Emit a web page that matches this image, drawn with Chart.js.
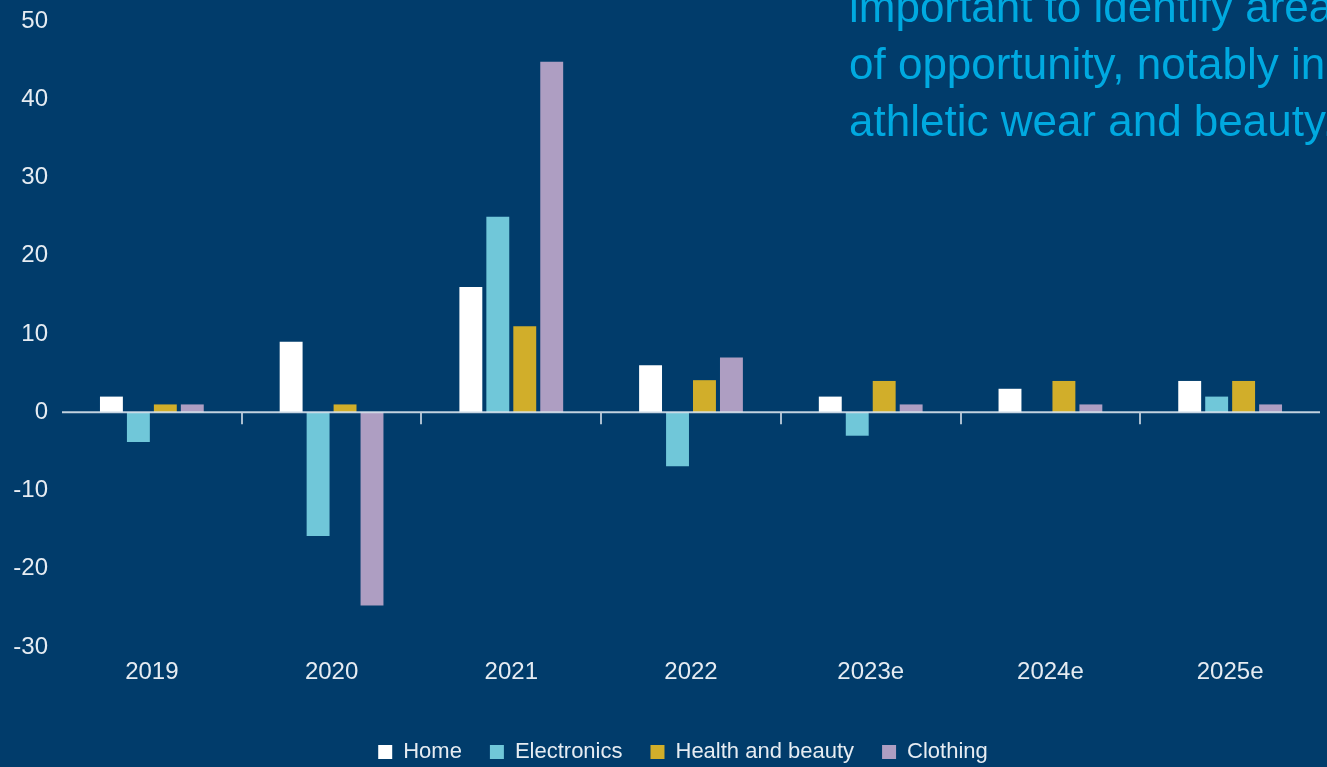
<!DOCTYPE html>
<html>
<head>
<meta charset="utf-8">
<script src="https://cdn.jsdelivr.net/npm/chart.js@4.4.1/dist/chart.umd.min.js"></script>
<style>
  html, body { margin:0; padding:0; background:#013c6b; overflow:hidden; }
  #wrap { position:relative; width:1327px; height:767px; }
  #note { position:absolute; left:849px; top:-22px; width:600px; font-family:"Liberation Sans", Arial, sans-serif;
          font-size:44px; line-height:57px; color:#00a9e0; white-space:nowrap; }
</style>
</head>
<body>
<div id="wrap">
  <canvas id="c" width="1327" height="767"></canvas>
  <div id="note">important to identify areas<br>of opportunity, notably in<br>athletic wear and beauty.</div>
</div>
<script>
const categories = ["2019", "2020", "2021", "2022", "2023e", "2024e", "2025e"];
const homeValues = [2, 9, 16, 6, 2, 3, 4];
const electronicsValues = [-3.8, -15.8, 25, -6.9, -3, 0, 2];
const healthBeautyValues = [1, 1, 11, 4.1, 4, 4, 4];
const clothingValues = [1, -24.7, 44.8, 7, 1, 1, 1];
const yTicks = [-30, -20, -10, 0, 10, 20, 30, 40, 50];

const FONT = "'Liberation Sans', Arial, sans-serif";

const zeroLine = {
  id: 'zeroLine',
  afterLayout(chart) {
    if (chart.legend) { chart.legend.left += 23; chart.legend.right += 23; }
  },
  afterDatasetsDraw(chart) {
    const {ctx, chartArea, scales} = chart;
    const y0 = scales.y.getPixelForValue(0);
    ctx.save();
    ctx.strokeStyle = 'rgba(215,226,236,0.9)';
    ctx.lineWidth = 2;
    ctx.beginPath();
    ctx.moveTo(chartArea.left, y0);
    ctx.lineTo(chartArea.right, y0);
    ctx.stroke();
    ctx.strokeStyle = 'rgba(190,204,218,0.9)';
    ctx.lineWidth = 2;
    const n = scales.x.ticks.length;
    for (let i = 1; i < n; i++) {
      const x = (scales.x.getPixelForTick(i - 1) + scales.x.getPixelForTick(i)) / 2;
      ctx.beginPath();
      ctx.moveTo(Math.round(x), y0);
      ctx.lineTo(Math.round(x), y0 + 12);
      ctx.stroke();
    }
    ctx.restore();
  }
};

new Chart(document.getElementById('c'), {
  type: 'bar',
  data: {
    labels: categories,
    datasets: [
      { label: 'Home', data: homeValues, backgroundColor: '#ffffff' },
      { label: 'Electronics', data: electronicsValues, backgroundColor: '#70c7d9' },
      { label: 'Health and beauty', data: healthBeautyValues, backgroundColor: '#d1ae2a' },
      { label: 'Clothing', data: clothingValues, backgroundColor: '#ae9ec2' }
    ]
  },
  options: {
    responsive: false,
    animation: false,
    devicePixelRatio: 1,
    layout: { padding: { top: 21, right: 7, bottom: -6, left: 0 } },
    datasets: { bar: { categoryPercentage: 0.6, barPercentage: 0.85 } },
    plugins: {
      legend: {
        position: 'bottom',
        labels: {
          color: '#e6ecf2',
          font: { family: FONT, size: 22 },
          boxWidth: 14, boxHeight: 14,
          padding: 28
        }
      },
      tooltip: { enabled: false },
      title: { display: false }
    },
    scales: {
      x: {
        grid: { display: false, drawTicks: false },
        border: { display: false },
        ticks: { color: '#e6ecf2', font: { family: FONT, size: 24 }, padding: 11 },
        afterFit(scale) { scale.height = 66; }
      },
      y: {
        min: -30, max: 50,
        afterBuildTicks(scale) { scale.ticks = yTicks.map(v => ({ value: v })); },
        grid: { display: false, drawTicks: false },
        border: { display: false },
        ticks: { color: '#e6ecf2', font: { family: FONT, size: 24 }, padding: 14 },
        afterFit(scale) { scale.width = 62; scale.paddingTop = 0; scale.paddingBottom = 0; }
      }
    }
  },
  plugins: [zeroLine]
});
</script>
</body>
</html>
